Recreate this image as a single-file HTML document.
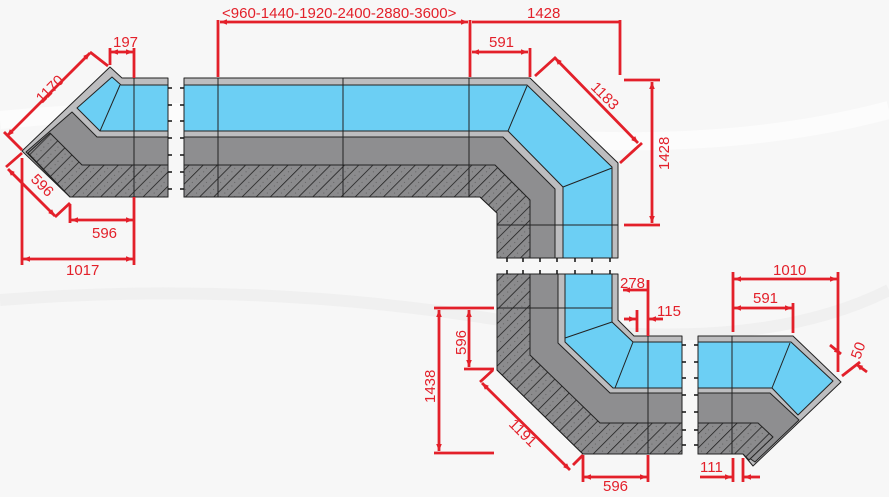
<!DOCTYPE html>
<html><head><meta charset="utf-8"><style>
html,body{margin:0;padding:0;background:#f7f7f7}
svg{display:block}
text{font-family:"Liberation Sans",sans-serif;font-size:15px;fill:#e3202a}
</style></head><body>
<svg width="889" height="497" viewBox="0 0 889 497" xmlns="http://www.w3.org/2000/svg">
<defs>
<pattern id="h" patternUnits="userSpaceOnUse" width="10" height="10" patternTransform="rotate(45)">
<rect width="10" height="10" fill="#8b8b8d"/>
<line x1="0" y1="0" x2="0" y2="10" stroke="#1a1a1a" stroke-width="1.5"/>
<circle cx="5" cy="3" r="0.5" fill="#555"/><circle cx="5.5" cy="7.5" r="0.5" fill="#555"/>
</pattern>
<marker id="a" viewBox="0 0 10 10" refX="10" refY="5" markerWidth="7" markerHeight="7" orient="auto-start-reverse" markerUnits="userSpaceOnUse"><path d="M0,1 L10,5 L0,9 z" fill="#e3202a"/></marker>
</defs>
<rect width="889" height="497" fill="#f7f7f7"/>
<path d="M0,120 Q200,100 450,130 T889,110" stroke="#fcfcfc" stroke-width="18" fill="none"/>
<path d="M0,300 Q250,280 500,320 T889,290" stroke="#f0f0f0" stroke-width="12" fill="none"/>

<g stroke="#222" stroke-width="1" stroke-linejoin="round">
<polygon points="110,67 122,78 168,78 168,197 70,197 22,151" fill="#bdbdbf"/>
<polygon points="112,77 121,85 168,85 168,131 100,131 77,108" fill="#6ccff4"/>
<polygon points="26,152 72,112 97,137 168,137 168,197 70,197" fill="#8e8e90"/>
<polygon points="28,153 50,133 82,165 168,165 168,197 70,197" fill="url(#h)"/>
<line x1="134" y1="78" x2="134" y2="197"/>
<line x1="120" y1="85" x2="100" y2="131"/>

<polygon points="184,78 530,78 618,163 618,258 497,258 497,213 480,197 184,197" fill="#bdbdbf"/>
<polygon points="184,85 527,85 612,167 612,258 563,258 563,187 508,131 184,131" fill="#6ccff4"/>
<polygon points="184,137 503,137 555,189 555,258 497,258 497,213 480,197 184,197" fill="#8e8e90"/>
<polygon points="184,165 495,165 530,200 530,258 497,258 497,213 480,197 184,197" fill="url(#h)"/>
<line x1="218" y1="78" x2="218" y2="197"/>
<line x1="343" y1="78" x2="343" y2="197"/>
<line x1="469" y1="78" x2="469" y2="197"/>
<line x1="527" y1="86" x2="508" y2="131"/>
<line x1="612" y1="168" x2="563" y2="187"/>
<line x1="497" y1="225" x2="618" y2="225"/>

<polygon points="497,274 618,274 618,320 634,336 682,336 682,454 583,454 497,370" fill="#bdbdbf"/>
<polygon points="497,274 558,274 558,343 610,393 682,393 682,454 583,454 497,370" fill="#8e8e90"/>
<polygon points="497,274 530,274 530,355 600,423 682,423 682,454 583,454 497,370" fill="url(#h)"/>
<polygon points="565,274 612,274 612,322 633,342 682,342 682,388 613,388 565,342" fill="#6ccff4"/>
<line x1="612" y1="322" x2="565" y2="338"/>
<line x1="633" y1="342" x2="615" y2="388"/>
<line x1="497" y1="308" x2="612" y2="308"/>
<line x1="648" y1="336" x2="648" y2="454"/>

<polygon points="698,336 793,336 841,382 753,466 743,454 698,454" fill="#bdbdbf"/>
<polygon points="698,393 770,393 799,420 755,462 743,454 698,454" fill="#8e8e90"/>
<polygon points="698,423 758,423 773,437 749,460 743,454 698,454" fill="url(#h)"/>
<polygon points="698,342 791,342 833,381 798,415 772,388 698,388" fill="#6ccff4"/>
<line x1="790" y1="343" x2="772" y2="388"/>
<line x1="732" y1="336" x2="732" y2="454"/>
</g>

<g stroke="#111" stroke-width="1.5" fill="none">
<path d="M168,88h4 M168,105h4 M168,121h4 M168,138h4 M168,155h4 M168,172h4 M168,189h4"/>
<path d="M180,88h4 M180,105h4 M180,121h4 M180,138h4 M180,155h4 M180,172h4 M180,189h4"/>
<path d="M507,258v4 M523,258v4 M540,258v4 M557,258v4 M575,258v4 M592,258v4 M610,258v4"/>
<path d="M507,270v4 M523,270v4 M540,270v4 M557,270v4 M575,270v4 M592,270v4 M610,270v4"/>
<path d="M682,345h4 M682,362h4 M682,378h4 M682,395h4 M682,412h4 M682,430h4 M682,445h4"/>
<path d="M694,345h4 M694,362h4 M694,378h4 M694,395h4 M694,412h4 M694,430h4 M694,445h4"/>
</g>

<g stroke="#e3202a" stroke-width="2.8" fill="none">
<line x1="218" y1="20" x2="218" y2="77"/>
<line x1="470" y1="20" x2="470" y2="77"/>
<line x1="620" y1="20" x2="620" y2="75"/>
<line x1="220" y1="22" x2="468" y2="22" marker-start="url(#a)" marker-end="url(#a)"/>
<line x1="472" y1="22" x2="620" y2="22"/>
<line x1="530" y1="48" x2="530" y2="77"/>
<line x1="472" y1="52" x2="528" y2="52" marker-start="url(#a)" marker-end="url(#a)"/>
<line x1="535" y1="76" x2="556" y2="57"/>
<line x1="620" y1="163" x2="642" y2="143"/>
<line x1="555" y1="58" x2="638" y2="143" marker-start="url(#a)" marker-end="url(#a)"/>
<line x1="624" y1="80" x2="660" y2="80"/>
<line x1="624" y1="225" x2="660" y2="225"/>
<line x1="652" y1="82" x2="652" y2="223" marker-start="url(#a)" marker-end="url(#a)"/>

<line x1="110" y1="48" x2="110" y2="65"/>
<line x1="134" y1="48" x2="134" y2="78"/>
<line x1="111" y1="52" x2="133" y2="52" marker-start="url(#a)" marker-end="url(#a)"/>
<line x1="90" y1="52" x2="108" y2="66"/>
<line x1="4" y1="132" x2="22" y2="150"/>
<line x1="7" y1="136" x2="90" y2="53" marker-start="url(#a)" marker-end="url(#a)"/>
<line x1="22" y1="153" x2="6" y2="167"/>
<line x1="55" y1="217" x2="70" y2="203"/>
<line x1="8" y1="169" x2="55" y2="216" marker-start="url(#a)" marker-end="url(#a)"/>
<line x1="70" y1="204" x2="70" y2="223"/>
<line x1="134" y1="197" x2="134" y2="265"/>
<line x1="71" y1="220" x2="133" y2="220" marker-start="url(#a)" marker-end="url(#a)"/>
<line x1="22" y1="158" x2="22" y2="265"/>
<line x1="23" y1="259" x2="133" y2="259" marker-start="url(#a)" marker-end="url(#a)"/>

<line x1="648" y1="280" x2="648" y2="336"/>
<line x1="623" y1="290" x2="647" y2="290" marker-start="url(#a)"/>
<line x1="637" y1="310" x2="637" y2="332"/>
<line x1="624" y1="319" x2="636" y2="319" marker-end="url(#a)"/>
<line x1="663" y1="319" x2="649" y2="319" marker-end="url(#a)"/>
<line x1="733" y1="272" x2="733" y2="332"/>
<line x1="838" y1="272" x2="838" y2="372"/>
<line x1="734" y1="279" x2="837" y2="279" marker-start="url(#a)" marker-end="url(#a)"/>
<line x1="793" y1="303" x2="793" y2="333"/>
<line x1="734" y1="308" x2="792" y2="308" marker-start="url(#a)" marker-end="url(#a)"/>
<line x1="842" y1="376" x2="860" y2="362"/>
<line x1="830" y1="345" x2="841" y2="354" marker-end="url(#a)"/>
<line x1="867" y1="372" x2="856" y2="364" marker-end="url(#a)"/>
<line x1="733" y1="458" x2="733" y2="482"/>
<line x1="743" y1="458" x2="743" y2="482"/>
<line x1="700" y1="477" x2="732" y2="477" marker-end="url(#a)"/>
<line x1="760" y1="477" x2="744" y2="477" marker-end="url(#a)"/>
<line x1="583" y1="455" x2="583" y2="482"/>
<line x1="648" y1="455" x2="648" y2="482"/>
<line x1="584" y1="477" x2="647" y2="477" marker-start="url(#a)" marker-end="url(#a)"/>
<line x1="583" y1="455" x2="573" y2="465"/>
<line x1="480" y1="382" x2="493" y2="370"/>
<line x1="482" y1="383" x2="570" y2="470" marker-start="url(#a)" marker-end="url(#a)"/>
<line x1="434" y1="308" x2="494" y2="308"/>
<line x1="434" y1="453" x2="494" y2="453"/>
<line x1="439" y1="310" x2="439" y2="451" marker-start="url(#a)" marker-end="url(#a)"/>
<line x1="464" y1="369" x2="494" y2="369"/>
<line x1="469" y1="310" x2="469" y2="367" marker-start="url(#a)" marker-end="url(#a)"/>
</g>

<text x="222" y="18">&lt;960-1440-1920-2400-2880-3600&gt;</text>
<text x="527" y="18">1428</text>
<text x="489" y="47">591</text>
<text x="113" y="47">197</text>
<text x="92" y="238">596</text>
<text x="66" y="275">1017</text>
<text x="620" y="288">278</text>
<text x="657" y="316">115</text>
<text x="773" y="275">1010</text>
<text x="753" y="303">591</text>
<text x="700" y="472">111</text>
<text x="603" y="491">596</text>
<text transform="translate(590,88) rotate(45)" x="0" y="0">1183</text>
<text transform="translate(669,170) rotate(-90)">1428</text>
<text transform="translate(42,104) rotate(-45)">1170</text>
<text transform="translate(30,180) rotate(45)">596</text>
<text transform="translate(508,425) rotate(45)">1191</text>
<text transform="translate(435,403) rotate(-90)">1438</text>
<text transform="translate(466,355) rotate(-90)">596</text>
<text transform="translate(860,360) rotate(-70)">50</text>
</svg>
</body></html>
